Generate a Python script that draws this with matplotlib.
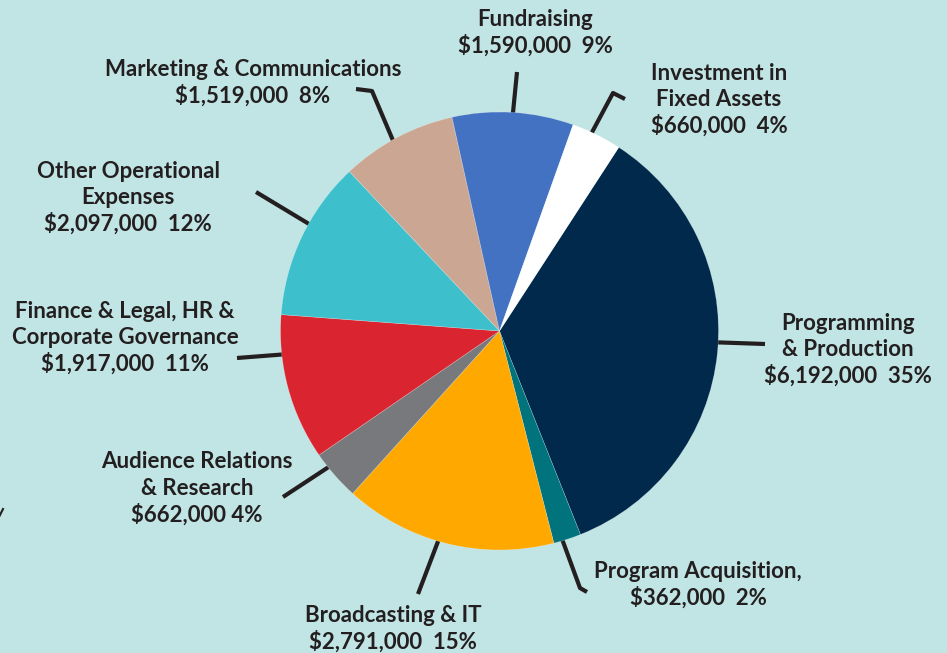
import numpy as np
import matplotlib
matplotlib.use("Agg")
import matplotlib.pyplot as plt

# budget by category, clockwise from the top right
categories = ["Programming & Production", "Program Acquisition", "Broadcasting & IT",
              "Audience Relations & Research", "Finance & Legal, HR & Corporate Governance",
              "Other Operational Expenses", "Marketing & Communications", "Fundraising",
              "Investment in Fixed Assets"]
amounts = [6192000, 362000, 2791000, 662000, 1917000, 2097000, 1519000, 1590000, 660000]
percents = [35, 2, 15, 4, 11, 12, 8, 9, 4]
label_lines = [["Programming", "& Production", "$6,192,000  35%"],
               ["Program Acquisition,", "$362,000  2%"],
               ["Broadcasting & IT", "$2,791,000  15%"],
               ["Audience Relations", "& Research", "$662,000 4%"],
               ["Finance & Legal, HR &", "Corporate Governance", "$1,917,000  11%"],
               ["Other Operational", "Expenses", "$2,097,000  12%"],
               ["Marketing & Communications", "$1,519,000  8%"],
               ["Fundraising", "$1,590,000  9%"],
               ["Investment in", "Fixed Assets", "$660,000  4%"]]
colors = ["#00294b", "#00737c", "#fea800", "#77797c", "#da2530",
          "#3dc0cc", "#cba793", "#4472c3", "#ffffff"]

W, H = 947, 653
BG = "#c1e5e4"
INK = "#231f20"
CX, CY, R = 499.5, 331, 219

# label layout in picture pixels: text centre x, first line y,
# leader angle (deg clockwise from top), leader points after the pie edge
layout = [
    (848, 323, 93, [(765, 344)]),
    (698, 571, 163.3, [(580, 588), (587, 592)]),
    (393, 615, 196.2, [(418, 594)]),
    (197, 462, -128.6, [(283, 497)]),
    (125, 311, -96.2, [(237, 358)]),
    (128, 171, -60.7, [(256, 192)]),
    (253, 69, -29.3, [(372, 91), (356, 89)]),
    (535, 19, 3.5, [(517, 72)]),
    (719, 73, 24.9, [(613, 93), (625, 99)]),
]


def yy(y):
    return H - y


fig = plt.figure(figsize=(W / 100, H / 100), dpi=100, facecolor=BG)
ax = fig.add_axes([0, 0, 1, 1])
ax.set_facecolor(BG)

ax.pie(amounts, colors=colors, startangle=57, counterclock=False,
       center=(CX, yy(CY)), radius=R, frame=True,
       wedgeprops=dict(linewidth=0.4, edgecolor=(1, 1, 1, 0.35)))

for (tx, ty, ang, pts), lines in zip(layout, label_lines):
    a = np.radians(ang)
    sx = CX + (R - 4) * np.sin(a)
    sy = CY - (R - 4) * np.cos(a)
    xs = [sx] + [p[0] for p in pts]
    ys = [yy(sy)] + [yy(p[1]) for p in pts]
    ax.plot(xs, ys, color=INK, lw=3, solid_capstyle="butt", zorder=0.5)
    for i, line in enumerate(lines):
        ax.text(tx, yy(ty + i * 26.3), line, ha="center", va="center",
                fontsize=16, fontweight="bold", family=["Lato", "DejaVu Sans"],
                color=INK)

# stray mark at the left edge
ax.plot([-2, 3], [yy(519), yy(509)], color=INK, lw=1.5)

ax.set_xlim(0, W)
ax.set_ylim(0, H)
ax.set_aspect("equal")
ax.axis("off")

fig.savefig("out.png", dpi=100, facecolor=BG)
